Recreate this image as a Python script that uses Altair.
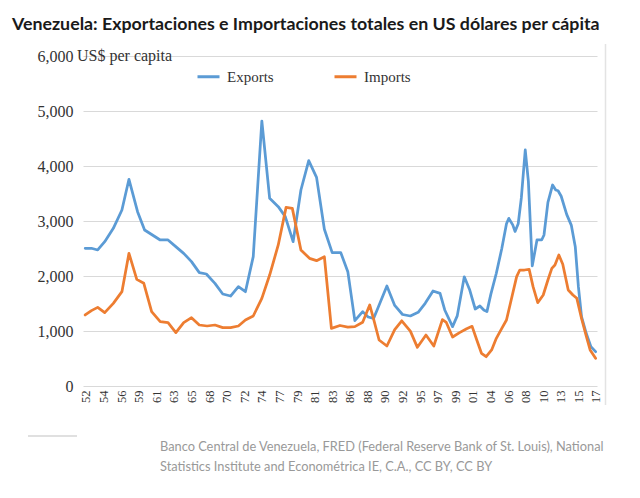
import altair as alt
import pandas as pd

exp_years = [1951.9, 1952.7, 1953.5, 1954.4, 1955.5, 1956.6, 1957.5, 1958.6, 1959.5, 1960.5,
             1961.5, 1962.5, 1963.6, 1964.5, 1965.5, 1966.5, 1967.4, 1968.5, 1969.5, 1970.5,
             1971.5, 1972.4, 1973.4, 1974.5, 1975.5, 1976.6, 1977.5, 1978.5, 1979.5, 1980.5,
             1981.5, 1982.5, 1983.5, 1984.6, 1985.5, 1986.4, 1987.4, 1988.1, 1988.8, 1989.3,
             1990.5, 1991.5, 1992.5, 1993.5, 1994.5, 1995.4, 1996.4, 1997.3, 1997.9, 1998.9,
             1999.5, 2000.4, 2001.1, 2001.8, 2002.4, 2002.9, 2003.3, 2003.8, 2004.5, 2005.2,
             2005.8, 2006.1, 2006.6, 2006.9, 2007.3, 2007.7, 2008.2, 2008.6, 2009.1, 2009.7,
             2010.3, 2010.6, 2011.1, 2011.7, 2012.1, 2012.4, 2012.8, 2013.5, 2014.1, 2014.6,
             2015.0, 2015.4, 2016.0, 2016.6, 2017.2]
exp_values = [2504, 2504, 2473, 2624, 2867, 3200, 3758, 3170, 2836, 2745,
              2655, 2655, 2521, 2412, 2261, 2061, 2036, 1867, 1673, 1636,
              1806, 1715, 2352, 4818, 3412, 3261, 3079, 2624, 3564, 4097,
              3794, 2850, 2424, 2424, 2079, 1188, 1352, 1255, 1230, 1400,
              1818, 1465, 1300, 1273, 1340, 1503, 1727, 1685, 1382, 1079,
              1275, 1985, 1745, 1400, 1455, 1382, 1352, 1670, 2050, 2500,
              2950, 3048, 2930, 2810, 2950, 3420, 4291, 3720, 2185, 2655,
              2655, 2745, 3340, 3655, 3564, 3550, 3450, 3120, 2920, 2533,
              1806, 1261, 958, 715, 624]

imp_years = [1951.9, 1952.7, 1953.5, 1954.4, 1955.5, 1956.6, 1957.5, 1958.5, 1959.4, 1960.4,
             1961.5, 1962.5, 1963.5, 1964.5, 1965.5, 1966.5, 1967.5, 1968.5, 1969.5, 1970.5,
             1971.5, 1972.4, 1973.4, 1974.5, 1975.5, 1976.6, 1977.6, 1978.4, 1979.5, 1980.6,
             1981.5, 1982.5, 1983.4, 1984.5, 1985.5, 1986.4, 1987.4, 1988.3, 1988.8, 1989.5,
             1990.5, 1991.5, 1992.4, 1993.5, 1994.4, 1995.5, 1996.5, 1997.6, 1998.1, 1998.9,
             1999.8, 2000.7, 2001.4, 2002.0, 2002.6, 2003.2, 2003.9, 2004.5, 2005.2, 2005.8,
             2006.4, 2007.1, 2007.5, 2008.1, 2008.7, 2009.2, 2009.8, 2010.5, 2011.1, 2011.6,
             2012.0, 2012.5, 2013.0, 2013.7, 2014.3, 2014.8, 2015.4, 2016.0, 2016.5, 2017.2]
imp_values = [1291, 1370, 1430, 1333, 1503, 1715, 2412, 1939, 1867, 1352,
              1170, 1152, 970, 1152, 1242, 1109, 1091, 1109, 1061, 1061,
              1091, 1200, 1273, 1594, 2018, 2564, 3248, 3230, 2473, 2321,
              2279, 2350, 1048, 1100, 1072, 1080, 1160, 1473, 1215, 836,
              727, 1024, 1185, 997, 703, 927, 727, 1206, 1155, 891,
              970, 1040, 1085, 836, 594, 533, 655, 867, 1048, 1200,
              1564, 1988, 2109, 2109, 2121, 1806, 1515, 1655, 1927, 2139,
              2200, 2382, 2215, 1745, 1655, 1594, 1230, 910, 655, 503]

series_names = ["Exports", "Imports"]
series_colors = ["#5b9bd5", "#ed7d31"]
tick_labels = ["52", "54", "56", "59", "61", "63", "65", "68", "70", "72", "74", "77", "79", "81", "83",
               "86", "88", "90", "92", "95", "97", "99", "01", "04", "06", "08", "10", "13", "15", "17"]
y_ticks = [0, 1000, 2000, 3000, 4000, 5000, 6000]

title_text = "Venezuela: Exportaciones e Importaciones totales en US dólares per cápita"
unit_text = "US$ per capita"
source_text = ("Banco Central de Venezuela, FRED (Federal Reserve Bank of St. Louis), National\n"
               "Statistics Institute and Econométrica IE, C.A., CC BY, CC BY")

df = pd.concat([
    pd.DataFrame({"year": exp_years, "value": exp_values, "series": series_names[0]}),
    pd.DataFrame({"year": imp_years, "value": imp_values, "series": series_names[1]}),
], ignore_index=True)

tick_pos = [1952 + 2.25 * i for i in range(len(tick_labels))]
label_expr = "[" + ",".join(f"'{t}'" for t in tick_labels) + "][round((datum.value-1952)/2.25)]"

serif = "Liberation Serif"

lines = alt.Chart(df).mark_line(strokeWidth=2.75, strokeJoin="round", strokeCap="round").encode(
    x=alt.X("year:Q",
            scale=alt.Scale(domain=[1951.62, 2017.38], nice=False, zero=False),
            axis=alt.Axis(values=tick_pos, labelExpr=label_expr, labelAngle=-90, grid=False,
                          domain=False, ticks=False, labelPadding=4, labelFont=serif,
                          labelFontSize=12.5, labelColor="#333333", labelOverlap=False,
                          labelFlush=False, title=None)),
    y=alt.Y("value:Q",
            scale=alt.Scale(domain=[0, 6000], nice=False),
            axis=alt.Axis(values=y_ticks, labelExpr="format(datum.value, ',.0f')", grid=True,
                          gridColor="#d9d9d9", domain=False, ticks=False, labelPadding=10,
                          labelFont=serif, labelFontSize=16, labelColor="#333333", title=None)),
    color=alt.Color("series:N",
                    scale=alt.Scale(domain=series_names, range=series_colors),
                    legend=alt.Legend(orient="none", legendX=113, legendY=8, direction="horizontal",
                                      title=None, symbolType="stroke", symbolSize=484,
                                      symbolStrokeWidth=3, labelFont=serif, labelFontSize=15,
                                      labelColor="#333333", columnPadding=54, labelOffset=6)),
)

one = alt.Data(values=[{}])

title = alt.Chart(one).mark_text(align="left", baseline="alphabetic", font="Lato", fontWeight="bold",
                                 fontSize=17.8, color="#1a1a1a", text=title_text).encode(
    x=alt.value(-71), y=alt.value(-26))

unit = alt.Chart(one).mark_text(align="left", baseline="middle", font=serif, fontSize=16,
                                color="#333333", text=unit_text).encode(
    x=alt.value(-6), y=alt.value(0))

source = alt.Chart(one).mark_text(align="left", baseline="alphabetic", font="Lato", fontSize=12.8,
                                  color="#999999", lineBreak="\n", lineHeight=20, text=source_text).encode(
    x=alt.value(77), y=alt.value(395))

sep = alt.Chart(one).mark_rule(color="#e0e0e0", strokeWidth=2).encode(
    x=alt.value(-55), x2=alt.value(-6), y=alt.value(380))

border = alt.Chart(one).mark_rule(color="#e3e3e3", strokeWidth=1.5).encode(
    x=alt.value(522.5), y=alt.value(-12), y2=alt.value(349))

chart = alt.layer(lines, title, unit, source, sep, border).properties(
    width=514, height=330,
    autosize=alt.AutoSizeParams(type="none"),
    padding={"left": 75, "top": 48, "right": 35, "bottom": 104},
).configure_view(stroke=None)

chart.save("out.html", embed_options={"renderer": "svg", "actions": False})
